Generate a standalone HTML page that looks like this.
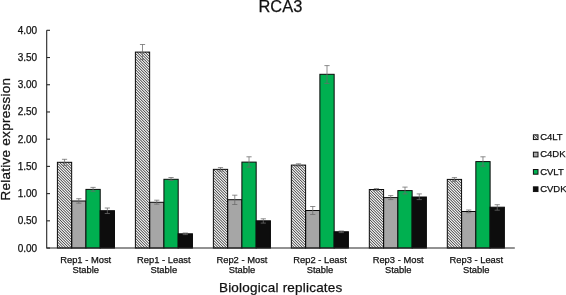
<!DOCTYPE html>
<html><head><meta charset="utf-8"><title>RCA3</title>
<style>html,body{margin:0;padding:0;background:#fff;}body{width:566px;height:295px;overflow:hidden;}svg{display:block;will-change:transform;}text{font-family:"Liberation Sans",sans-serif;fill:#111;stroke:#111;stroke-width:0.25px;}</style>
</head><body>
<svg width="566" height="295" viewBox="0 0 566 295">
<defs><clipPath id="hc"><rect x="57.40" y="162.30" width="14.27" height="85.75"/><rect x="135.38" y="52.10" width="14.27" height="195.95"/><rect x="213.36" y="169.35" width="14.27" height="78.70"/><rect x="291.34" y="165.10" width="14.27" height="82.95"/><rect x="369.32" y="189.50" width="14.27" height="58.55"/><rect x="447.30" y="179.40" width="14.27" height="68.65"/><rect x="533.4" y="134.85" width="4.6" height="4.7"/></clipPath></defs>
<rect width="566" height="295" fill="#fff"/>
<text x="280.4" y="11.7" font-size="16.4" text-anchor="middle">RCA3</text>
<text transform="translate(10.3,139.15) rotate(-90)" font-size="13.5" letter-spacing="0.27" text-anchor="middle">Relative expression</text>
<text x="280.7" y="292.25" font-size="13.5" letter-spacing="0.2" text-anchor="middle">Biological replicates</text>
<rect x="57.40" y="162.30" width="14.27" height="85.75" fill="#fff" stroke="none" stroke-width="1"/>
<rect x="71.67" y="201.00" width="14.27" height="47.05" fill="#a6a6a6" stroke="#0a0a0a" stroke-width="1"/>
<rect x="85.94" y="189.40" width="14.27" height="58.65" fill="#00b050" stroke="#0a0a0a" stroke-width="1"/>
<rect x="100.21" y="210.70" width="14.27" height="37.35" fill="#0d0d0d" stroke="#0a0a0a" stroke-width="1"/>
<rect x="135.38" y="52.10" width="14.27" height="195.95" fill="#fff" stroke="none" stroke-width="1"/>
<rect x="149.65" y="202.30" width="14.27" height="45.75" fill="#a6a6a6" stroke="#0a0a0a" stroke-width="1"/>
<rect x="163.92" y="179.30" width="14.27" height="68.75" fill="#00b050" stroke="#0a0a0a" stroke-width="1"/>
<rect x="178.19" y="233.80" width="14.27" height="14.25" fill="#0d0d0d" stroke="#0a0a0a" stroke-width="1"/>
<rect x="213.36" y="169.35" width="14.27" height="78.70" fill="#fff" stroke="none" stroke-width="1"/>
<rect x="227.63" y="199.70" width="14.27" height="48.35" fill="#a6a6a6" stroke="#0a0a0a" stroke-width="1"/>
<rect x="241.90" y="162.10" width="14.27" height="85.95" fill="#00b050" stroke="#0a0a0a" stroke-width="1"/>
<rect x="256.17" y="220.80" width="14.27" height="27.25" fill="#0d0d0d" stroke="#0a0a0a" stroke-width="1"/>
<rect x="291.34" y="165.10" width="14.27" height="82.95" fill="#fff" stroke="none" stroke-width="1"/>
<rect x="305.61" y="210.50" width="14.27" height="37.55" fill="#a6a6a6" stroke="#0a0a0a" stroke-width="1"/>
<rect x="319.88" y="74.30" width="14.27" height="173.75" fill="#00b050" stroke="#0a0a0a" stroke-width="1"/>
<rect x="334.15" y="231.75" width="14.27" height="16.30" fill="#0d0d0d" stroke="#0a0a0a" stroke-width="1"/>
<rect x="369.32" y="189.50" width="14.27" height="58.55" fill="#fff" stroke="none" stroke-width="1"/>
<rect x="383.59" y="197.60" width="14.27" height="50.45" fill="#a6a6a6" stroke="#0a0a0a" stroke-width="1"/>
<rect x="397.86" y="190.60" width="14.27" height="57.45" fill="#00b050" stroke="#0a0a0a" stroke-width="1"/>
<rect x="412.13" y="197.00" width="14.27" height="51.05" fill="#0d0d0d" stroke="#0a0a0a" stroke-width="1"/>
<rect x="447.30" y="179.40" width="14.27" height="68.65" fill="#fff" stroke="none" stroke-width="1"/>
<rect x="461.57" y="211.50" width="14.27" height="36.55" fill="#a6a6a6" stroke="#0a0a0a" stroke-width="1"/>
<rect x="475.84" y="161.60" width="14.27" height="86.45" fill="#00b050" stroke="#0a0a0a" stroke-width="1"/>
<rect x="490.11" y="207.20" width="14.27" height="40.85" fill="#0d0d0d" stroke="#0a0a0a" stroke-width="1"/>
<g clip-path="url(#hc)" fill="none" stroke="#161616"><defs><path id="hl" d="M50 -470.00L545 25.00M50 -467.28L545 27.72M50 -464.56L545 30.44M50 -461.84L545 33.16M50 -459.12L545 35.88M50 -456.40L545 38.60M50 -453.68L545 41.32M50 -450.96L545 44.04M50 -448.24L545 46.76M50 -445.52L545 49.48M50 -442.80L545 52.20M50 -440.08L545 54.92M50 -437.36L545 57.64M50 -434.64L545 60.36M50 -431.92L545 63.08M50 -429.20L545 65.80M50 -426.48L545 68.52M50 -423.76L545 71.24M50 -421.04L545 73.96M50 -418.32L545 76.68M50 -415.60L545 79.40M50 -412.88L545 82.12M50 -410.16L545 84.84M50 -407.44L545 87.56M50 -404.72L545 90.28M50 -402.00L545 93.00M50 -399.28L545 95.72M50 -396.56L545 98.44M50 -393.84L545 101.16M50 -391.12L545 103.88M50 -388.40L545 106.60M50 -385.68L545 109.32M50 -382.96L545 112.04M50 -380.24L545 114.76M50 -377.52L545 117.48M50 -374.80L545 120.20M50 -372.08L545 122.92M50 -369.36L545 125.64M50 -366.64L545 128.36M50 -363.92L545 131.08M50 -361.20L545 133.80M50 -358.48L545 136.52M50 -355.76L545 139.24M50 -353.04L545 141.96M50 -350.32L545 144.68M50 -347.60L545 147.40M50 -344.88L545 150.12M50 -342.16L545 152.84M50 -339.44L545 155.56M50 -336.72L545 158.28M50 -334.00L545 161.00M50 -331.28L545 163.72M50 -328.56L545 166.44M50 -325.84L545 169.16M50 -323.12L545 171.88M50 -320.40L545 174.60M50 -317.68L545 177.32M50 -314.96L545 180.04M50 -312.24L545 182.76M50 -309.52L545 185.48M50 -306.80L545 188.20M50 -304.08L545 190.92M50 -301.36L545 193.64M50 -298.64L545 196.36M50 -295.92L545 199.08M50 -293.20L545 201.80M50 -290.48L545 204.52M50 -287.76L545 207.24M50 -285.04L545 209.96M50 -282.32L545 212.68M50 -279.60L545 215.40M50 -276.88L545 218.12M50 -274.16L545 220.84M50 -271.44L545 223.56M50 -268.72L545 226.28M50 -266.00L545 229.00M50 -263.28L545 231.72M50 -260.56L545 234.44M50 -257.84L545 237.16M50 -255.12L545 239.88M50 -252.40L545 242.60M50 -249.68L545 245.32M50 -246.96L545 248.04M50 -244.24L545 250.76M50 -241.52L545 253.48M50 -238.80L545 256.20M50 -236.08L545 258.92M50 -233.36L545 261.64M50 -230.64L545 264.36M50 -227.92L545 267.08M50 -225.20L545 269.80M50 -222.48L545 272.52M50 -219.76L545 275.24M50 -217.04L545 277.96M50 -214.32L545 280.68M50 -211.60L545 283.40M50 -208.88L545 286.12M50 -206.16L545 288.84M50 -203.44L545 291.56M50 -200.72L545 294.28M50 -198.00L545 297.00M50 -195.28L545 299.72M50 -192.56L545 302.44M50 -189.84L545 305.16M50 -187.12L545 307.88M50 -184.40L545 310.60M50 -181.68L545 313.32M50 -178.96L545 316.04M50 -176.24L545 318.76M50 -173.52L545 321.48M50 -170.80L545 324.20M50 -168.08L545 326.92M50 -165.36L545 329.64M50 -162.64L545 332.36M50 -159.92L545 335.08M50 -157.20L545 337.80M50 -154.48L545 340.52M50 -151.76L545 343.24M50 -149.04L545 345.96M50 -146.32L545 348.68M50 -143.60L545 351.40M50 -140.88L545 354.12M50 -138.16L545 356.84M50 -135.44L545 359.56M50 -132.72L545 362.28M50 -130.00L545 365.00M50 -127.28L545 367.72M50 -124.56L545 370.44M50 -121.84L545 373.16M50 -119.12L545 375.88M50 -116.40L545 378.60M50 -113.68L545 381.32M50 -110.96L545 384.04M50 -108.24L545 386.76M50 -105.52L545 389.48M50 -102.80L545 392.20M50 -100.08L545 394.92M50 -97.36L545 397.64M50 -94.64L545 400.36M50 -91.92L545 403.08M50 -89.20L545 405.80M50 -86.48L545 408.52M50 -83.76L545 411.24M50 -81.04L545 413.96M50 -78.32L545 416.68M50 -75.60L545 419.40M50 -72.88L545 422.12M50 -70.16L545 424.84M50 -67.44L545 427.56M50 -64.72L545 430.28M50 -62.00L545 433.00M50 -59.28L545 435.72M50 -56.56L545 438.44M50 -53.84L545 441.16M50 -51.12L545 443.88M50 -48.40L545 446.60M50 -45.68L545 449.32M50 -42.96L545 452.04M50 -40.24L545 454.76M50 -37.52L545 457.48M50 -34.80L545 460.20M50 -32.08L545 462.92M50 -29.36L545 465.64M50 -26.64L545 468.36M50 -23.92L545 471.08M50 -21.20L545 473.80M50 -18.48L545 476.52M50 -15.76L545 479.24M50 -13.04L545 481.96M50 -10.32L545 484.68M50 -7.60L545 487.40M50 -4.88L545 490.12M50 -2.16L545 492.84M50 0.56L545 495.56M50 3.28L545 498.28M50 6.00L545 501.00M50 8.72L545 503.72M50 11.44L545 506.44M50 14.16L545 509.16M50 16.88L545 511.88M50 19.60L545 514.60M50 22.32L545 517.32M50 25.04L545 520.04M50 27.76L545 522.76M50 30.48L545 525.48M50 33.20L545 528.20M50 35.92L545 530.92M50 38.64L545 533.64M50 41.36L545 536.36M50 44.08L545 539.08M50 46.80L545 541.80M50 49.52L545 544.52M50 52.24L545 547.24M50 54.96L545 549.96M50 57.68L545 552.68M50 60.40L545 555.40M50 63.12L545 558.12M50 65.84L545 560.84M50 68.56L545 563.56M50 71.28L545 566.28M50 74.00L545 569.00M50 76.72L545 571.72M50 79.44L545 574.44M50 82.16L545 577.16M50 84.88L545 579.88M50 87.60L545 582.60M50 90.32L545 585.32M50 93.04L545 588.04M50 95.76L545 590.76M50 98.48L545 593.48M50 101.20L545 596.20M50 103.92L545 598.92M50 106.64L545 601.64M50 109.36L545 604.36M50 112.08L545 607.08M50 114.80L545 609.80M50 117.52L545 612.52M50 120.24L545 615.24M50 122.96L545 617.96M50 125.68L545 620.68M50 128.40L545 623.40M50 131.12L545 626.12M50 133.84L545 628.84M50 136.56L545 631.56M50 139.28L545 634.28M50 142.00L545 637.00M50 144.72L545 639.72M50 147.44L545 642.44M50 150.16L545 645.16M50 152.88L545 647.88M50 155.60L545 650.60M50 158.32L545 653.32M50 161.04L545 656.04M50 163.76L545 658.76M50 166.48L545 661.48M50 169.20L545 664.20M50 171.92L545 666.92M50 174.64L545 669.64M50 177.36L545 672.36M50 180.08L545 675.08M50 182.80L545 677.80M50 185.52L545 680.52M50 188.24L545 683.24M50 190.96L545 685.96M50 193.68L545 688.68M50 196.40L545 691.40M50 199.12L545 694.12M50 201.84L545 696.84M50 204.56L545 699.56M50 207.28L545 702.28M50 210.00L545 705.00M50 212.72L545 707.72M50 215.44L545 710.44M50 218.16L545 713.16M50 220.88L545 715.88M50 223.60L545 718.60M50 226.32L545 721.32M50 229.04L545 724.04M50 231.76L545 726.76M50 234.48L545 729.48M50 237.20L545 732.20M50 239.92L545 734.92M50 242.64L545 737.64M50 245.36L545 740.36M50 248.08L545 743.08M50 250.80L545 745.80M50 253.52L545 748.52M50 256.24L545 751.24M50 258.96L545 753.96M50 261.68L545 756.68M50 264.40L545 759.40M50 267.12L545 762.12M50 269.84L545 764.84M50 272.56L545 767.56M50 275.28L545 770.28M50 278.00L545 773.00M50 280.72L545 775.72M50 283.44L545 778.44M50 286.16L545 781.16M50 288.88L545 783.88M50 291.60L545 786.60M50 294.32L545 789.32M50 297.04L545 792.04M50 299.76L545 794.76M50 302.48L545 797.48M50 305.20L545 800.20M50 307.92L545 802.92"/></defs><use href="#hl" stroke-width="1.25" stroke-opacity="0.22"/><use href="#hl" stroke-width="0.72" stroke-opacity="1"/></g>
<rect x="57.40" y="162.30" width="14.27" height="85.75" fill="none" stroke="#0a0a0a" stroke-width="1"/>
<rect x="135.38" y="52.10" width="14.27" height="195.95" fill="none" stroke="#0a0a0a" stroke-width="1"/>
<rect x="213.36" y="169.35" width="14.27" height="78.70" fill="none" stroke="#0a0a0a" stroke-width="1"/>
<rect x="291.34" y="165.10" width="14.27" height="82.95" fill="none" stroke="#0a0a0a" stroke-width="1"/>
<rect x="369.32" y="189.50" width="14.27" height="58.55" fill="none" stroke="#0a0a0a" stroke-width="1"/>
<rect x="447.30" y="179.40" width="14.27" height="68.65" fill="none" stroke="#0a0a0a" stroke-width="1"/>
<path d="M64.53 159.30V165.30M61.93 159.30H67.13M61.93 165.30H67.13" stroke="#6a6a6a" stroke-opacity="0.85" stroke-width="0.9" fill="none"/>
<path d="M78.81 198.70V203.20M76.21 198.70H81.41M76.21 203.20H81.41" stroke="#6a6a6a" stroke-opacity="0.85" stroke-width="0.9" fill="none"/>
<path d="M93.08 187.40V191.20M90.48 187.40H95.67M90.48 191.20H95.67" stroke="#6a6a6a" stroke-opacity="0.85" stroke-width="0.9" fill="none"/>
<path d="M107.35 208.00V213.50M104.75 208.00H109.95M104.75 213.50H109.95" stroke="#6a6a6a" stroke-opacity="0.85" stroke-width="0.9" fill="none"/>
<path d="M142.51 44.50V59.60M139.91 44.50H145.11M139.91 59.60H145.11" stroke="#6a6a6a" stroke-opacity="0.85" stroke-width="0.9" fill="none"/>
<path d="M156.78 200.20V204.20M154.19 200.20H159.38M154.19 204.20H159.38" stroke="#6a6a6a" stroke-opacity="0.85" stroke-width="0.9" fill="none"/>
<path d="M171.05 177.50V180.40M168.45 177.50H173.65M168.45 180.40H173.65" stroke="#6a6a6a" stroke-opacity="0.85" stroke-width="0.9" fill="none"/>
<path d="M185.32 233.00V234.60M182.72 233.00H187.92M182.72 234.60H187.92" stroke="#6a6a6a" stroke-opacity="0.85" stroke-width="0.9" fill="none"/>
<path d="M220.50 167.60V171.10M217.90 167.60H223.09M217.90 171.10H223.09" stroke="#6a6a6a" stroke-opacity="0.85" stroke-width="0.9" fill="none"/>
<path d="M234.77 195.20V204.50M232.17 195.20H237.37M232.17 204.50H237.37" stroke="#6a6a6a" stroke-opacity="0.85" stroke-width="0.9" fill="none"/>
<path d="M249.03 156.80V167.10M246.44 156.80H251.63M246.44 167.10H251.63" stroke="#6a6a6a" stroke-opacity="0.85" stroke-width="0.9" fill="none"/>
<path d="M263.31 218.80V223.10M260.70 218.80H265.91M260.70 223.10H265.91" stroke="#6a6a6a" stroke-opacity="0.85" stroke-width="0.9" fill="none"/>
<path d="M298.47 163.80V166.10M295.87 163.80H301.07M295.87 166.10H301.07" stroke="#6a6a6a" stroke-opacity="0.85" stroke-width="0.9" fill="none"/>
<path d="M312.74 206.50V214.50M310.14 206.50H315.34M310.14 214.50H315.34" stroke="#6a6a6a" stroke-opacity="0.85" stroke-width="0.9" fill="none"/>
<path d="M327.01 65.60V83.40M324.41 65.60H329.62M324.41 83.40H329.62" stroke="#6a6a6a" stroke-opacity="0.85" stroke-width="0.9" fill="none"/>
<path d="M341.28 231.00V232.60M338.68 231.00H343.88M338.68 232.60H343.88" stroke="#6a6a6a" stroke-opacity="0.85" stroke-width="0.9" fill="none"/>
<path d="M376.45 188.60V190.40M373.85 188.60H379.06M373.85 190.40H379.06" stroke="#6a6a6a" stroke-opacity="0.85" stroke-width="0.9" fill="none"/>
<path d="M390.72 195.60V199.60M388.12 195.60H393.32M388.12 199.60H393.32" stroke="#6a6a6a" stroke-opacity="0.85" stroke-width="0.9" fill="none"/>
<path d="M405.00 187.10V193.90M402.39 187.10H407.60M402.39 193.90H407.60" stroke="#6a6a6a" stroke-opacity="0.85" stroke-width="0.9" fill="none"/>
<path d="M419.26 193.90V199.60M416.66 193.90H421.87M416.66 199.60H421.87" stroke="#6a6a6a" stroke-opacity="0.85" stroke-width="0.9" fill="none"/>
<path d="M454.44 177.60V181.40M451.83 177.60H457.04M451.83 181.40H457.04" stroke="#6a6a6a" stroke-opacity="0.85" stroke-width="0.9" fill="none"/>
<path d="M468.70 210.00V212.75M466.10 210.00H471.31M466.10 212.75H471.31" stroke="#6a6a6a" stroke-opacity="0.85" stroke-width="0.9" fill="none"/>
<path d="M482.98 156.80V166.10M480.38 156.80H485.58M480.38 166.10H485.58" stroke="#6a6a6a" stroke-opacity="0.85" stroke-width="0.9" fill="none"/>
<path d="M497.25 204.70V210.20M494.64 204.70H499.85M494.64 210.20H499.85" stroke="#6a6a6a" stroke-opacity="0.85" stroke-width="0.9" fill="none"/>
<path d="M46.7 30.3V248.05H514.8" stroke="#262626" stroke-width="1.1" fill="none"/>
<path d="M46.7 248.05H50.0" stroke="#262626" stroke-width="1.1"/>
<text x="37.1" y="251.55" font-size="10" text-anchor="end">0.00</text>
<path d="M46.7 220.83H50.0" stroke="#262626" stroke-width="1.1"/>
<text x="37.1" y="224.33" font-size="10" text-anchor="end">0.50</text>
<path d="M46.7 193.61H50.0" stroke="#262626" stroke-width="1.1"/>
<text x="37.1" y="197.11" font-size="10" text-anchor="end">1.00</text>
<path d="M46.7 166.39H50.0" stroke="#262626" stroke-width="1.1"/>
<text x="37.1" y="169.89" font-size="10" text-anchor="end">1.50</text>
<path d="M46.7 139.18H50.0" stroke="#262626" stroke-width="1.1"/>
<text x="37.1" y="142.68" font-size="10" text-anchor="end">2.00</text>
<path d="M46.7 111.96H50.0" stroke="#262626" stroke-width="1.1"/>
<text x="37.1" y="115.46" font-size="10" text-anchor="end">2.50</text>
<path d="M46.7 84.74H50.0" stroke="#262626" stroke-width="1.1"/>
<text x="37.1" y="88.24" font-size="10" text-anchor="end">3.00</text>
<path d="M46.7 57.52H50.0" stroke="#262626" stroke-width="1.1"/>
<text x="37.1" y="61.02" font-size="10" text-anchor="end">3.50</text>
<path d="M46.7 30.30H50.0" stroke="#262626" stroke-width="1.1"/>
<text x="37.1" y="33.80" font-size="10" text-anchor="end">4.00</text>
<text x="85.70" y="262.5" font-size="9.4" text-anchor="middle">Rep1 - Most</text>
<text x="85.70" y="273.3" font-size="9.4" text-anchor="middle">Stable</text>
<text x="163.82" y="262.5" font-size="9.4" text-anchor="middle">Rep1 - Least</text>
<text x="163.82" y="273.3" font-size="9.4" text-anchor="middle">Stable</text>
<text x="241.94" y="262.5" font-size="9.4" text-anchor="middle">Rep2 - Most</text>
<text x="241.94" y="273.3" font-size="9.4" text-anchor="middle">Stable</text>
<text x="320.06" y="262.5" font-size="9.4" text-anchor="middle">Rep2 - Least</text>
<text x="320.06" y="273.3" font-size="9.4" text-anchor="middle">Stable</text>
<text x="398.18" y="262.5" font-size="9.4" text-anchor="middle">Rep3 - Most</text>
<text x="398.18" y="273.3" font-size="9.4" text-anchor="middle">Stable</text>
<text x="476.30" y="262.5" font-size="9.4" text-anchor="middle">Rep3 - Least</text>
<text x="476.30" y="273.3" font-size="9.4" text-anchor="middle">Stable</text>
<rect x="533.4" y="134.85" width="4.6" height="4.7" fill="none" stroke="#111" stroke-width="1"/>
<text x="540.15" y="139.95" font-size="9.5">C4LT</text>
<rect x="533.4" y="152.18" width="4.6" height="4.7" fill="#a6a6a6" stroke="#111" stroke-width="1"/>
<text x="540.15" y="157.28" font-size="9.5">C4DK</text>
<rect x="533.4" y="169.51" width="4.6" height="4.7" fill="#00b050" stroke="#111" stroke-width="1"/>
<text x="540.15" y="174.61" font-size="9.5">CVLT</text>
<rect x="533.4" y="186.84" width="4.6" height="4.7" fill="#0d0d0d" stroke="#111" stroke-width="1"/>
<text x="540.15" y="191.94" font-size="9.5">CVDK</text>
</svg></body></html>
